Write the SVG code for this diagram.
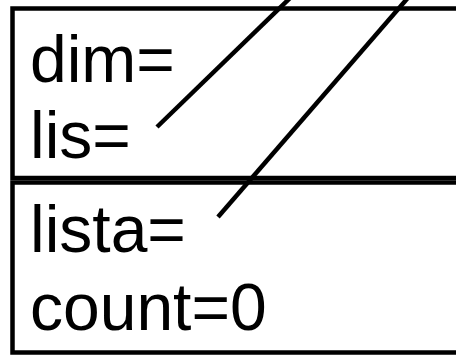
<svg xmlns="http://www.w3.org/2000/svg" width="456" height="356" viewBox="0 0 456 356">
<style>
.box{fill:#fff;stroke:#000;stroke-width:4.5}
.t{font-family:"Liberation Sans",Arial,sans-serif;font-size:66px;fill:#000}
.c{stroke:#000;stroke-width:4.5;fill:none}
</style>
<rect width="456" height="356" fill="#fff"/>
<g id="obj1">
<rect class="box" x="12.5" y="8.5" width="480" height="169.5"/>
<text class="t" x="30" y="82">dim=</text>
<text class="t" x="30" y="158">lis=</text>
</g>
<g id="obj2">
<rect class="box" x="12.5" y="182.5" width="480" height="170"/>
<text class="t" x="30" y="252">lista=</text>
<text class="t" x="30" y="330">count=0</text>
</g>
<g id="connectors">
<line class="c" x1="157" y1="127" x2="298.3" y2="-10"/>
<line class="c" x1="218" y1="217" x2="414.7" y2="-10"/>
</g>
</svg>
